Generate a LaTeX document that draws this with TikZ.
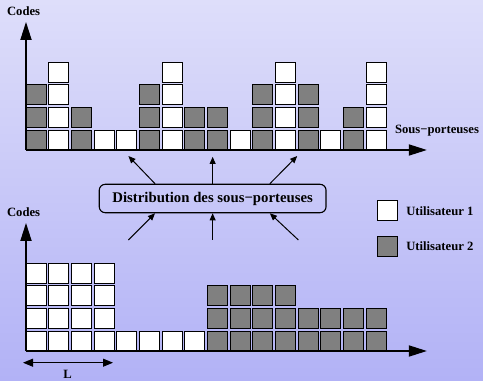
\documentclass[tikz,border=0pt]{standalone}
\usepackage{fontspec}
\setmainfont{Liberation Serif}
\usetikzlibrary{arrows.meta}

\definecolor{bgtop}{RGB}{222,222,250}
\definecolor{bgbot}{RGB}{178,178,246}

\begin{document}
\begin{tikzpicture}[
  % one code / sub-carrier cell
  cell/.style={rectangle, draw=black, fill=#1, line width=0.6pt,
               minimum size=0.5cm, inner sep=0pt},
  % bold axis and legend labels
  lbl/.style={font=\small\bfseries, inner sep=1pt},
  axis/.style={-{Triangle[length=0.45cm, width=0.28cm]}, line width=0.8pt},
  arrow/.style={-{Triangle[length=0.18cm, width=0.15cm]}, line width=0.7pt}
]

%% ── Background (fixes the page size) ───────────────────────
\fill[top color=bgtop, bottom color=bgbot] (0,0) rectangle (12.075,9.5);
\useasboundingbox (0,0) rectangle (12.075,9.5);

%% ── Top chart: interleaved sub-carriers ────────────────────
\foreach \c/\h [count=\k from 0] in {gray/3, white/4, gray/2, white/1,
    white/1, gray/3, white/4, gray/2, gray/2, white/1, gray/3, white/4,
    gray/3, white/1, gray/2, white/4}
  \foreach \r in {1,...,\h}
    \node[cell=\c] (t\k-\r) at ({0.9+0.5667*\k}, {6.0+0.5667*(\r-1)}) {};

\coordinate (o1)  at (0.65, 5.75);
\coordinate (ya1) at (0.65, 8.95);
\coordinate (xa1) at (10.67, 5.75);
\draw[axis] (o1) -- (ya1);
\draw[axis] (o1) -- (xa1);
\node[lbl] (codes1) at (0.59, 9.225) {Codes};
\node[lbl] (sp)     at (10.925, 6.225) {Sous−porteuses};

%% ── Distribution box, arrows up and in ─────────────────────
\node[draw=black, line width=0.8pt, rounded corners=0.15cm,
      minimum width=5.67cm, minimum height=0.71cm,
      font=\bfseries\fontsize{10.5}{12}\selectfont]
      (dist) at (5.316, 4.5375) {Distribution des sous−porteuses};

\coordinate (up1) at (3.21, 5.60);
\coordinate (up2) at (5.316, 5.58);
\coordinate (up3) at (7.43, 5.60);
\draw[arrow] ([xshift=-1.44cm]dist.north) -- (up1);
\draw[arrow] (dist.north)                 -- (up2);
\draw[arrow] ([xshift=1.43cm]dist.north)  -- (up3);

\coordinate (in1) at (3.21, 3.50);
\coordinate (in2) at (5.316, 3.50);
\coordinate (in3) at (7.46, 3.50);
\draw[arrow] (in1) -- ([xshift=-1.44cm]dist.south);
\draw[arrow] (in2) -- (dist.south);
\draw[arrow] (in3) -- ([xshift=1.43cm]dist.south);

%% ── Legend ─────────────────────────────────────────────────
\node[cell=white] (u1) at (9.675, 4.232) {};
\node[cell=gray]  (u2) at (9.675, 3.35) {};
\node[lbl, anchor=west] (u1t) at ([xshift=0.18cm]u1.east) {Utilisateur 1};
\node[lbl, anchor=west] (u2t) at ([xshift=0.18cm]u2.east) {Utilisateur 2};

%% ── Bottom chart: block allocation ─────────────────────────
\foreach \c/\h [count=\k from 0] in {white/4, white/4, white/4, white/4,
    white/1, white/1, white/1, white/1, gray/3, gray/3, gray/3, gray/3,
    gray/2, gray/2, gray/2, gray/2}
  \foreach \r in {1,...,\h}
    \node[cell=\c] (b\k-\r) at ({0.9+0.5667*\k}, {0.975+0.5667*(\r-1)}) {};

\coordinate (o2)  at (0.65, 0.725);
\coordinate (ya2) at (0.65, 3.925);
\coordinate (xa2) at (10.67, 0.725);
\draw[axis] (o2) -- (ya2);
\draw[axis] (o2) -- (xa2);
\node[lbl] (codes2) at (0.59, 4.2) {Codes};

% block length L
\coordinate (l1) at (0.575, 0.4325);
\coordinate (l2) at (2.825, 0.4325);
\draw[{Triangle[length=0.25cm, width=0.2cm]}-{Triangle[length=0.25cm, width=0.2cm]},
      line width=0.7pt] (l1) -- (l2);
\node[lbl] (len) at (1.69, 0.15) {L};

\end{tikzpicture}
\end{document}
